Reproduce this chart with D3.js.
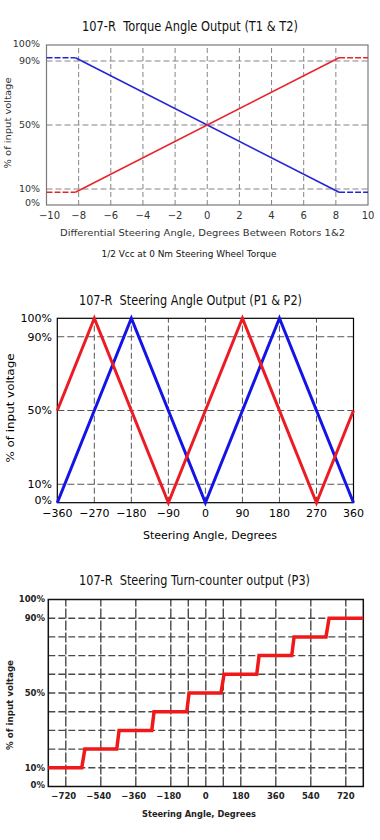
<!DOCTYPE html>
<html>
<head>
<meta charset="utf-8">
<script src="https://cdn.jsdelivr.net/npm/d3@7"></script>
<style>
  body { margin: 0; background: #fff; }
  text { font-family: "DejaVu Sans", sans-serif; white-space: pre; }
</style>
</head>
<body>
<svg id="chart" width="380" height="840"></svg>
<script>
// ---- data: torque angle output (T1 & T2) ----
const t1Angle = [-8.2, 8.2];          // red, solid part
const t1Pct = [8, 92];
const t1TailAngle = [[-10, -8.2], [8.2, 10]];   // dashed flat tails
const t1TailPct = [[8, 8], [92, 92]];
const t2Angle = [-8.2, 8.2];          // blue
const t2Pct = [92, 8];
const t2TailAngle = [[-10, -8.2], [8.2, 10]];
const t2TailPct = [[92, 92], [8, 8]];
const torqueXTicks = [-10, -8, -6, -4, -2, 0, 2, 4, 6, 8, 10];
const torqueXGrid = [-8, -6, -4, -2, 0, 2, 4, 6, 8];

// ---- data: steering angle output (P1 & P2) ----
const p1Angle = [-360, -270, -90, 90, 270, 360];
const p1Pct = [50, 100, 0, 100, 0, 50];
const p2Angle = [-360, -180, 0, 180, 360];
const p2Pct = [0, 100, 0, 100, 0];
const steerXTicks = [-360, -270, -180, -90, 0, 90, 180, 270, 360];
const steerXGrid = [-270, -180, -90, 0, 90, 180, 270];

// ---- data: turn-counter output (P3) ----
const p3Angle = [-810, -638, -622, -458, -446, -278, -266, -98, -86, 78, 94, 262, 274, 442, 454, 618, 634, 810];
const p3Pct = [10, 10, 20, 20, 30, 30, 40, 40, 50, 50, 60, 60, 70, 70, 80, 80, 90, 90];
const turnXTicks = [-720, -540, -360, -180, 0, 180, 360, 540, 720];
const turnXGrid = [-720, -540, -360, -180, -90, 0, 90, 180, 360, 540, 720];
const turnYGrid = [10, 20, 30, 40, 50, 60, 70, 80, 90];

const pctTicks = [0, 10, 50, 90, 100];
const pctGrid = [10, 50, 90];

const svg = d3.select("svg#chart");

function zip(xs, ys) {
    return xs.map((x, i) => [x, ys[i]]);
}

function label(g, txt, x, y, opt) {
    let t = g.append("text")
        .attr("x", x).attr("y", y)
        .attr("dy", "0.35em")
        .attr("text-anchor", opt.anchor || "middle")
        .attr("font-size", opt.size)
        .attr("fill", opt.fill || "#000")
        .attr("font-weight", opt.weight || "normal")
        .text(txt);
    if (opt.len) t.attr("textLength", opt.len).attr("lengthAdjust", "spacingAndGlyphs");
    if (opt.rotate) t.attr("transform", `rotate(-90,${x},${y})`);
    return t;
}

function frame(g, x, y, color, width) {
    let [x0, x1] = x.range();
    let [y0, y1] = y.range();
    g.append("rect")
        .attr("x", x0).attr("y", y1)
        .attr("width", x1 - x0).attr("height", y0 - y1)
        .attr("fill", "none")
        .attr("stroke", color)
        .attr("stroke-width", width);
}

function grid(g, x, y, xs, ys, style) {
    g.selectAll(null).data(xs).enter().append("line")
        .attr("x1", d => x(d)).attr("x2", d => x(d))
        .attr("y1", y.range()[0]).attr("y2", y.range()[1])
        .attr("stroke", style.color).attr("stroke-width", style.width)
        .attr("stroke-dasharray", style.vdash);
    g.selectAll(null).data(ys).enter().append("line")
        .attr("x1", x.range()[0]).attr("x2", x.range()[1])
        .attr("y1", d => y(d)).attr("y2", d => y(d))
        .attr("stroke", style.color).attr("stroke-width", style.width)
        .attr("stroke-dasharray", style.hdash);
}

function fmtSigned(d) {
    return d < 0 ? "\u2212" + Math.abs(d) : String(d);
}

// nudge the 100% / 0% labels away from the frame corners
function pctNudge(p, up, down) {
    return p === 100 ? -up : p === 0 ? -down : 0;
}

// ================= chart 1 =================
{
    let g = svg.append("g");
    let x = d3.scaleLinear().domain([-10, 10]).range([46.5, 368]);
    let y = d3.scaleLinear().domain([0, 100]).range([205, 45]);
    let line = d3.line().x(d => x(d[0])).y(d => y(d[1]));

    label(g, "107-R  Torque Angle Output (T1 & T2)", 190, 26, { size: 13.5, len: 216, fill: "#111" });

    grid(g, x, y, torqueXGrid, pctGrid, { color: "#858585", width: 1, vdash: "5,3", hdash: "6,3" });
    frame(g, x, y, "#7a7a7a", 1.2);

    t1TailAngle.forEach((a, i) => g.append("path").attr("d", line(zip(a, t1TailPct[i])))
        .attr("fill", "none").attr("stroke", "#e8242c").attr("stroke-width", 1.6).attr("stroke-dasharray", "6,2"));
    t2TailAngle.forEach((a, i) => g.append("path").attr("d", line(zip(a, t2TailPct[i])))
        .attr("fill", "none").attr("stroke", "#2525d6").attr("stroke-width", 1.6).attr("stroke-dasharray", "6,2"));
    g.append("path").attr("d", line(zip(t2Angle, t2Pct)))
        .attr("fill", "none").attr("stroke", "#2525d6").attr("stroke-width", 1.6);
    g.append("path").attr("d", line(zip(t1Angle, t1Pct)))
        .attr("fill", "none").attr("stroke", "#e8242c").attr("stroke-width", 1.6);

    pctTicks.forEach(p => label(g, p + "%", 40, y(p) + pctNudge(p, 1, 2.5), { size: 9.5, anchor: "end", fill: "#333" }));
    torqueXTicks.forEach(t => label(g, fmtSigned(t), x(t) + (t === -10 ? 3 : 0), 215.5, { size: 10, fill: "#333" }));

    label(g, "Differential Steering Angle, Degrees Between Rotors 1&2", 202.5, 233, { size: 9.5, len: 285, fill: "#333" });
    label(g, "1/2 Vcc at 0 Nm Steering Wheel Torque", 189, 254, { size: 8.5, len: 175, fill: "#111" });
    label(g, "% of input voltage", 8, 123, { size: 9.5, len: 91, fill: "#333", rotate: true });
}

// ================= chart 2 =================
{
    let g = svg.append("g");
    let x = d3.scaleLinear().domain([-360, 360]).range([57.3, 353.5]);
    let y = d3.scaleLinear().domain([0, 100]).range([502.7, 318.3]);
    let line = d3.line().x(d => x(d[0])).y(d => y(d[1]));

    label(g, "107-R  Steering Angle Output (P1 & P2)", 190.5, 300, { size: 13.5, len: 223, fill: "#111" });

    grid(g, x, y, steerXGrid, pctGrid, { color: "#555", width: 1, vdash: "6,3", hdash: "7,3" });
    frame(g, x, y, "#000", 1.2);

    g.append("path").attr("d", line(zip(p2Angle, p2Pct)))
        .attr("fill", "none").attr("stroke", "#1414e6").attr("stroke-width", 3).attr("stroke-linejoin", "miter");
    g.append("path").attr("d", line(zip(p1Angle, p1Pct)))
        .attr("fill", "none").attr("stroke", "#ec1c24").attr("stroke-width", 3).attr("stroke-linejoin", "miter");

    pctTicks.forEach(p => label(g, p + "%", 52, y(p) + pctNudge(p, 0, 2.5), { size: 11, anchor: "end" }));
    steerXTicks.forEach(t => label(g, fmtSigned(t), x(t), 513.5, { size: 11 }));

    label(g, "Steering Angle, Degrees", 210, 535.5, { size: 11, len: 134 });
    label(g, "% of input voltage", 10, 408, { size: 11, len: 109, rotate: true });
}

// ================= chart 3 =================
{
    let g = svg.append("g");
    let x = d3.scaleLinear().domain([-810, 810]).range([48.3, 363.3]);
    let y = d3.scaleLinear().domain([0, 100]).range([786.5, 599.5]);
    let line = d3.line().x(d => x(d[0])).y(d => y(d[1]));

    label(g, "107-R  Steering Turn-counter output (P3)", 194.5, 580, { size: 13.5, len: 231, fill: "#111" });

    grid(g, x, y, turnXGrid, turnYGrid, { color: "#4a4a4a", width: 1.4, vdash: "10,2", hdash: "7,3" });
    frame(g, x, y, "#111", 1.5);

    g.append("path").attr("d", line(zip(p3Angle, p3Pct)))
        .attr("fill", "none").attr("stroke", "#f01818").attr("stroke-width", 3.5).attr("stroke-linejoin", "miter");

    pctTicks.forEach(p => label(g, p + "%", 45, y(p) + pctNudge(p, 0, 1), { size: 8.5, anchor: "end", weight: "bold", fill: "#222" }));
    turnXTicks.forEach(t => label(g, fmtSigned(t), x(t) + (t < 0 ? -2 : 0), 796, { size: 8.5, weight: "bold", fill: "#222" }));

    label(g, "Steering Angle, Degrees", 199, 814, { size: 9, len: 114, weight: "bold", fill: "#222" });
    label(g, "% of input voltage", 10, 705, { size: 9, len: 90, weight: "bold", fill: "#222", rotate: true });
}
</script>
</body>
</html>
